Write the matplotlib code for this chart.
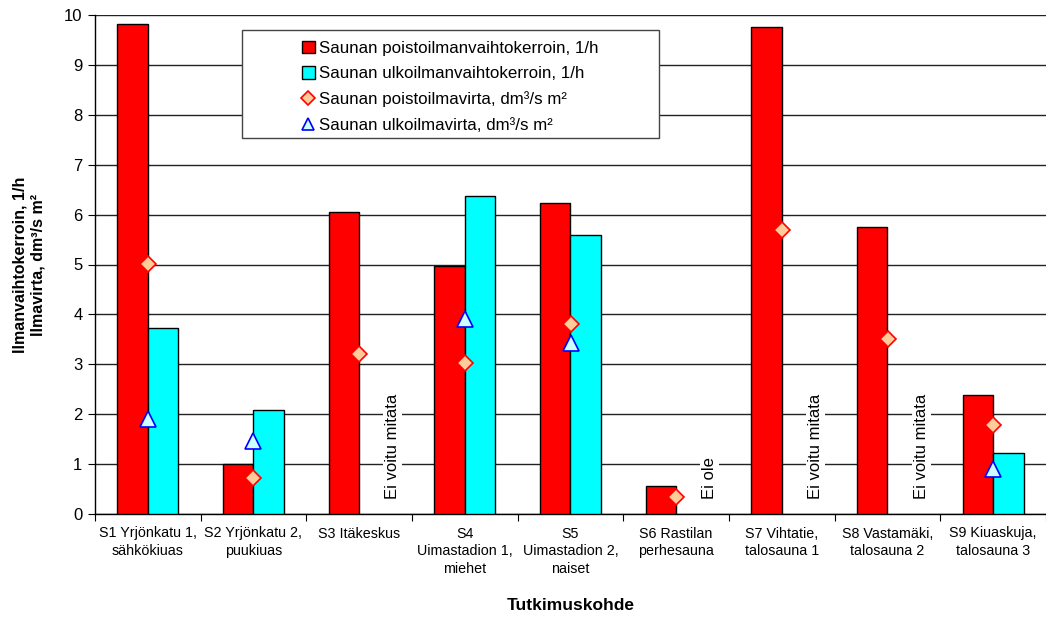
import numpy as np
import matplotlib.pyplot as plt
from matplotlib.patches import Rectangle
from matplotlib.ticker import FixedLocator, NullFormatter

plt.rcParams["font.family"] = ["Liberation Sans", "DejaVu Sans"]

sites = [
    "S1 Yrjönkatu 1,\nsähkökiuas",
    "S2 Yrjönkatu 2,\npuukiuas",
    "S3 Itäkeskus",
    "S4\nUimastadion 1,\nmiehet",
    "S5\nUimastadion 2,\nnaiset",
    "S6 Rastilan\nperhesauna",
    "S7 Vihtatie,\ntalosauna 1",
    "S8 Vastamäki,\ntalosauna 2",
    "S9 Kiuaskuja,\ntalosauna 3",
]
# nan = not measured / not present
exhaust_ach = [9.82, 1.0, 6.05, 4.97, 6.23, 0.57, 9.75, 5.75, 2.38]
supply_ach = [3.72, 2.09, np.nan, 6.38, 5.60, np.nan, np.nan, np.nan, 1.22]
exhaust_flow = [5.02, 0.72, 3.2, 3.03, 3.8, 0.35, 5.7, 3.5, 1.78]
supply_flow = [1.9, 1.47, np.nan, 3.9, 3.42, np.nan, np.nan, np.nan, 0.9]
notes = {2: "Ei voitu mitata", 5: "Ei ole", 6: "Ei voitu mitata", 7: "Ei voitu mitata"}

fig = plt.figure(figsize=(10.46, 6.19), dpi=100)
ax = fig.add_axes([95 / 1046, 1 - 514 / 619, 1 - 95 / 1046, (514 - 15) / 619])

x = np.arange(len(sites))
w = 0.29
b1 = ax.bar(x - w / 2, exhaust_ach, w, color="#ff0000", edgecolor="black", lw=1.0,
            zorder=3, label="Saunan poistoilmanvaihtokerroin, 1/h")
b2 = ax.bar(x + w / 2, supply_ach, w, color="#00ffff", edgecolor="black", lw=1.0,
            zorder=3, label="Saunan ulkoilmanvaihtokerroin, 1/h")
m1, = ax.plot(x, exhaust_flow, ls="none", marker="D", ms=8.5, mfc="#ffcc99",
              mec="#ff0000", mew=1.2, zorder=5, label="Saunan poistoilmavirta, dm³/s m²")
m2, = ax.plot(x, supply_flow, ls="none", marker="^", ms=11, mfc="#ccffff",
              mec="#0000ff", mew=1.2, zorder=5, label="Saunan ulkoilmavirta, dm³/s m²")

for i, txt in notes.items():
    ax.text(i + 0.32, 0.3, txt, rotation=90, ha="center", va="bottom",
            fontsize=12, zorder=4,
            bbox=dict(facecolor="white", edgecolor="none", pad=1.5))

ax.set_xlim(-0.5, len(sites) - 0.5)
ax.set_ylim(0, 10)
ax.set_yticks(range(0, 11))
ax.tick_params(axis="y", labelsize=12, length=5, width=0.8, direction="out", pad=4)
ax.set_xticks(x)
ax.set_xticklabels(sites, fontsize=10.3, linespacing=1.35)
ax.tick_params(axis="x", which="major", length=0, pad=9)
ax.xaxis.set_minor_locator(FixedLocator(np.arange(-0.5, len(sites), 1.0)))
ax.xaxis.set_minor_formatter(NullFormatter())
ax.tick_params(axis="x", which="minor", length=5, width=0.8, direction="out")

ax.grid(axis="y", color="#222222", lw=1.0, zorder=0)
ax.set_axisbelow(True)
for s in ("top", "right"):
    ax.spines[s].set_visible(False)
ax.spines["left"].set_linewidth(1.0)
ax.spines["bottom"].set_linewidth(1.0)

ax.set_ylabel("Ilmanvaihtokerroin, 1/h\nIlmavirta, dm³/s m²", fontsize=11.5,
              fontweight="bold", labelpad=13, linespacing=1.3)
ax.set_xlabel("Tutkimuskohde", fontsize=12.5, fontweight="bold", labelpad=16)

# legend frame drawn separately so the entries can sit offset inside it
box = Rectangle((242 / 1046, 1 - 138 / 619), (659 - 242) / 1046, (138 - 30) / 619,
                transform=fig.transFigure, facecolor="white", edgecolor="#444444",
                lw=1.0, zorder=6)
ax.add_patch(box)
box.set_clip_on(False)
leg = ax.legend([b1, b2, m1, m2], [h.get_label() for h in (b1, b2, m1, m2)],
                loc="upper left", bbox_to_anchor=(290 / 1046, 1 - 29 / 619),
                bbox_transform=fig.transFigure, frameon=False, fontsize=12.2,
                handlelength=0.75, handleheight=0.75, handletextpad=0.25,
                labelspacing=0.6, borderpad=0.2, markerscale=0.85)
leg.set_zorder(7)

fig.savefig("out.png", dpi=100)
